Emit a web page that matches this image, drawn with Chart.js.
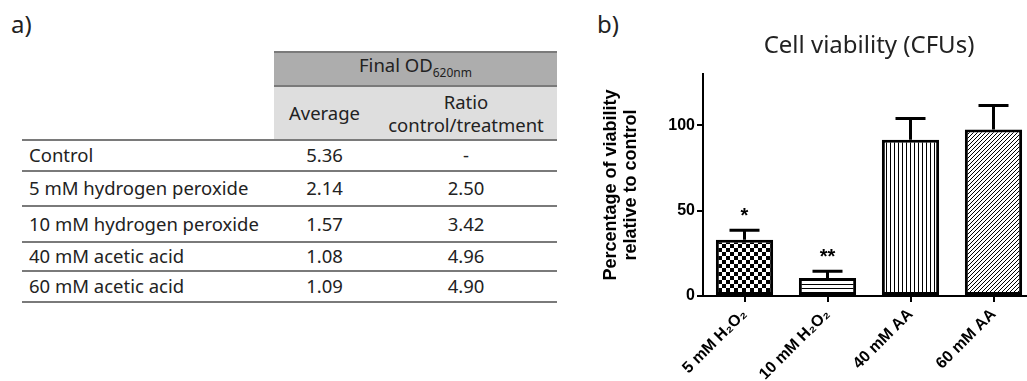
<!DOCTYPE html>
<html>
<head>
<meta charset="utf-8">
<script src="https://cdn.jsdelivr.net/npm/chart.js@4"></script>
<style>
    html, body { margin: 0; padding: 0; background: #fff; overflow: hidden; }
    body { width: 1027px; height: 381px; position: relative; font-family: "Noto Sans", sans-serif; color: #222; }
    .panel-label { position: absolute; top: 9px; font-size: 24px; line-height: 30px; }
    #od-table { position: absolute; left: 22px; top: 51px; border-collapse: collapse; font-size: 18.5px; table-layout: fixed; }
    #od-table td { padding: 0 7px; white-space: nowrap; }
    #od-table .num { text-align: center; padding: 0; }
    #od-table .h1 { background: #adadad; border-top: 2px solid #7a7a7a; border-bottom: 2px solid #7a7a7a; text-align: center; height: 26px; line-height: 24px; padding: 0; }
    #od-table .h2 { background: #dedede; text-align: center; line-height: 23px; height: 52px; padding: 0; }
    #od-table tr.data td { border-bottom: 2px solid #7a7a7a; line-height: 24px; }
    #od-table tr.first td { border-top: 2px solid #7a7a7a; }
    #chart-wrap { position: absolute; left: 598px; top: 0; width: 437px; height: 381px; }
</style>
</head>
<body>
<div class="panel-label" style="left:11px">a)</div>
<div class="panel-label" style="left:597px">b)</div>

<table id="od-table">
    <colgroup><col style="width:252px"><col style="width:101px"><col style="width:182px"></colgroup>
    <tr><td></td><td class="h1" colspan="2">Final OD<sub style="font-size:12px">620nm</sub></td></tr>
    <tr><td></td><td class="h2">Average</td><td class="h2">Ratio<br>control/treatment</td></tr>
</table>

<div id="chart-wrap"><canvas id="viabilityChart" width="437" height="381"></canvas></div>

<script>
// table a)
const treatments = ['Control', '5 mM hydrogen peroxide', '10 mM hydrogen peroxide', '40 mM acetic acid', '60 mM acetic acid'];
const odAverage = ['5.36', '2.14', '1.57', '1.08', '1.09'];
const odRatio = ['-', '2.50', '3.42', '4.96', '4.90'];
const rowHeights = [31, 35, 36, 29, 31];

// chart b)
const categories = ['5 mM H₂O₂', '10 mM H₂O₂', '40 mM AA', '60 mM AA'];
const viability = [33, 10.5, 91.5, 97.5];
const errors = [5.5, 4, 12.5, 14];
const marks = ['*', '**', '', ''];
const yTicks = [0, 50, 100];

document.addEventListener('DOMContentLoaded', () => {
    const table = document.getElementById('od-table');
    treatments.forEach((name, i) => {
        const tr = document.createElement('tr');
        tr.className = i === 0 ? 'data first' : 'data';
        tr.style.height = rowHeights[i] + 'px';
        tr.innerHTML = `<td>${name}</td><td class="num">${odAverage[i]}</td><td class="num">${odRatio[i]}</td>`;
        table.appendChild(tr);
    });

    drawChart();
});

function makePattern(kind) {
    const c = document.createElement('canvas');
    c.width = kind === 'checker' ? 8 : 4;
    c.height = c.width;
    const ctx = c.getContext('2d');
    ctx.fillStyle = '#fff';
    ctx.fillRect(0, 0, c.width, c.height);
    ctx.fillStyle = '#000';
    if (kind === 'checker') {
        ctx.fillRect(0, 0, 4, 4);
        ctx.fillRect(4, 4, 4, 4);
    } else if (kind === 'hlines') {
        ctx.fillRect(0, 0, 4, 1);
    } else if (kind === 'vlines') {
        ctx.fillRect(0, 0, 1, 4);
    } else {
        // crisp "/" hatching
        for (let i = 0; i < 4; i++) ctx.fillRect(i, 3 - i, 1, 1);
    }
    return ctx.createPattern(c, 'repeat');
}

// error bars, significance marks and the title
const extras = {
    id: 'extras',
    afterDatasetsDraw(chart) {
        const ctx = chart.ctx;
        const yScale = chart.scales.y;
        const meta = chart.getDatasetMeta(0);
        ctx.save();
        ctx.strokeStyle = '#000';
        ctx.lineWidth = 3;
        ctx.fillStyle = '#000';
        ctx.textAlign = 'center';
        ctx.textBaseline = 'middle';
        ctx.font = 'bold 20px "Liberation Sans", Arial, sans-serif';
        meta.data.forEach((bar, i) => {
            const top = yScale.getPixelForValue(viability[i] + errors[i]);
            ctx.beginPath();
            ctx.moveTo(bar.x, bar.y);
            ctx.lineTo(bar.x, top);
            ctx.moveTo(bar.x - 15, top);
            ctx.lineTo(bar.x + 15, top);
            ctx.stroke();
            if (marks[i]) ctx.fillText(marks[i], bar.x, top - 14);
        });

        const area = chart.chartArea;
        ctx.fillStyle = '#222';
        ctx.textBaseline = 'alphabetic';
        ctx.font = '24px "Noto Sans", sans-serif';
        ctx.fillText('Cell viability (CFUs)', (area.left + area.right) / 2, 53);
        ctx.restore();
    }
};

function drawChart() {
    const ctx = document.getElementById('viabilityChart');
    new Chart(ctx, {
        type: 'bar',
        data: {
            labels: categories,
            datasets: [{
                data: viability,
                backgroundColor: [makePattern('checker'), makePattern('hlines'), makePattern('vlines'), makePattern('diag')],
                borderColor: '#000',
                borderWidth: 3,
                borderSkipped: false,
                barPercentage: 0.69,
                categoryPercentage: 1
            }]
        },
        options: {
            responsive: false,
            animation: false,
            layout: { padding: { top: 74, left: 0, right: 0, bottom: 0 } },
            plugins: {
                legend: { display: false },
                title: { display: false },
                tooltip: { enabled: false }
            },
            scales: {
                x: {
                    offset: true,
                    afterFit: (scale) => { scale.height = 85; },
                    border: { color: '#000', width: 2 },
                    grid: { display: true, drawOnChartArea: false, offset: false, color: '#000', lineWidth: 2, tickLength: 6 },
                    ticks: {
                        color: '#000',
                        minRotation: 45,
                        maxRotation: 45,
                        padding: 3,
                        font: { family: '"Liberation Sans", Arial, sans-serif', size: 16, weight: 'bold' }
                    }
                },
                y: {
                    min: 0,
                    max: 130,
                    afterFit: (scale) => { scale.width = 105; },
                    afterBuildTicks: (scale) => { scale.ticks = yTicks.map(v => ({ value: v })); },
                    border: { color: '#000', width: 2 },
                    grid: { display: true, drawOnChartArea: false, color: '#000', lineWidth: 2, tickLength: 6 },
                    ticks: {
                        color: '#000',
                        padding: 2,
                        font: { family: '"Liberation Sans", Arial, sans-serif', size: 16, weight: 'bold' }
                    },
                    title: {
                        display: true,
                        text: ['Percentage of viability', 'relative to control'],
                        color: '#000',
                        padding: { top: 3 },
                        font: { family: '"Liberation Sans", Arial, sans-serif', size: 18, weight: 'bold', lineHeight: 1.1 }
                    }
                }
            }
        },
        plugins: [extras]
    });
}
</script>
</body>
</html>
